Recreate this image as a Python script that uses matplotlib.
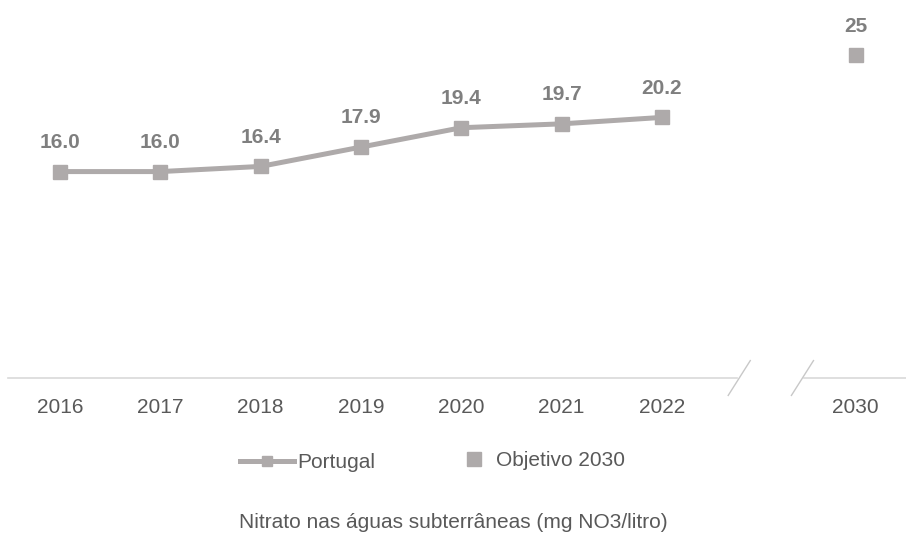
import matplotlib.pyplot as plt
from matplotlib.lines import Line2D

plt.rcParams['font.family'] = ['Liberation Sans', 'DejaVu Sans']

# Nitrate in groundwater (mg NO3/litre), Portugal
years = ["2016", "2017", "2018", "2019", "2020", "2021", "2022"]
portugal = [16.0, 16.0, 16.4, 17.9, 19.4, 19.7, 20.2]
target_label = "2030"
target_value = 25
title = "Nitrato nas águas subterrâneas (mg NO3/litro)"

line_color = "#aeaaaa"
label_color = "#7f7f7f"
tick_color = "#595959"

# category positions; the 2030 target sits after a broken gap in the axis
x = list(range(len(years)))
target_x = len(years) + 0.93
break_left, break_right = 6.77, 7.40

fig = plt.figure(figsize=(9.06, 5.36), dpi=100)
ax = fig.add_axes([0, 158 / 536, 1, 378 / 536])
ax.set_xlim(-0.598, 8.432)
ax.set_ylim(0, 29.3)
ax.axis("off")

# baseline with break marks
ax.plot([-0.52, break_left - 0.02], [0, 0], color="#d9d9d9", lw=1.2, clip_on=False)
ax.plot([break_right + 0.02, 8.432], [0, 0], color="#d9d9d9", lw=1.2, clip_on=False)
for bx in (break_left, break_right):
    ax.plot([bx - 0.11, bx + 0.11], [-1.35, 1.35], color="#c8c8c8", lw=1.0, clip_on=False)

ax.plot(x, portugal, color=line_color, lw=3.6, marker="s", ms=10, mec=line_color,
        mfc=line_color, solid_capstyle="butt")
ax.plot([target_x], [target_value], ls="none", marker="s", ms=10, color=line_color)

for xi, v in zip(x, portugal):
    ax.annotate(f"{v:.1f}", (xi, v), xytext=(0, 21), textcoords="offset points",
                ha="center", va="center", fontsize=15, fontweight="bold", color=label_color)
ax.annotate(f"{target_value}", (target_x, target_value), xytext=(0, 21),
            textcoords="offset points", ha="center", va="center", fontsize=15,
            fontweight="bold", color=label_color)

for xi, lab in zip(x + [target_x], years + [target_label]):
    ax.annotate(lab, (xi, 0), xytext=(0, -21), textcoords="offset points",
                ha="center", va="center", fontsize=15, color=tick_color, annotation_clip=False)

# legend
h1 = Line2D([], [], color=line_color, lw=3.6, marker="s", ms=7)
h2 = Line2D([], [], color=line_color, ls="none", marker="s", ms=10)
fig.legend([h1], ["Portugal"], loc="center left", bbox_to_anchor=(240 / 906, 1 - 463 / 536),
           frameon=False, fontsize=15, handlelength=2.6, handletextpad=0.15,
           borderpad=0, borderaxespad=0, labelcolor=tick_color)
fig.legend([h2], ["Objetivo 2030"], loc="center left", bbox_to_anchor=(464 / 906, 1 - 461 / 536),
           frameon=False, fontsize=15, handlelength=1.0, handletextpad=0.55,
           borderpad=0, borderaxespad=0, labelcolor=tick_color)

fig.text(0.5, 1 - 523 / 536, title, ha="center", va="center", fontsize=15, color=tick_color)

fig.savefig("out.png", dpi=100)
